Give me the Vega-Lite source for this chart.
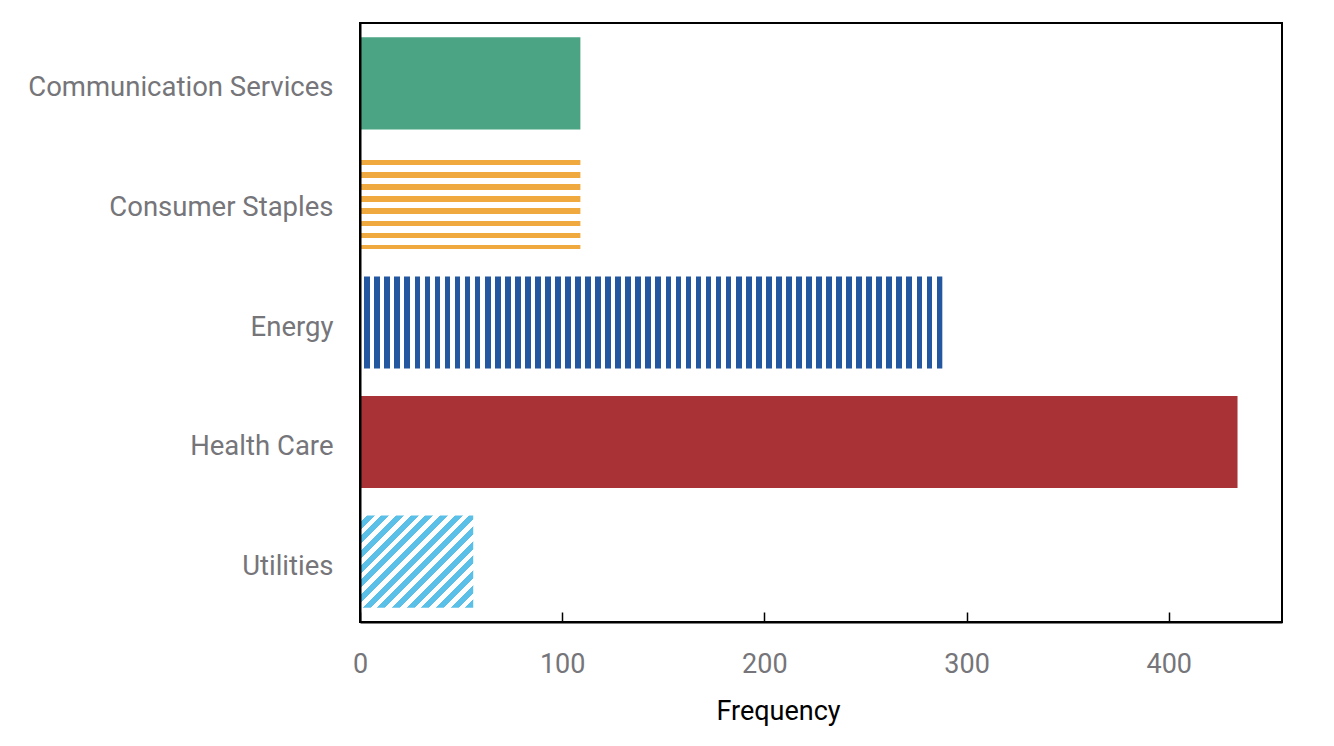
{
  "$schema": "https://vega.github.io/schema/vega-lite/v6.json",
  "autosize": {"type": "none"},
  "padding": {"left": 360, "top": 23, "right": 52, "bottom": 124},
  "width": 922,
  "height": 599,
  "background": "white",
  "config": {
    "view": {"stroke": "#000000", "strokeWidth": 2},
    "font": "Roboto"
  },
  "data": {
    "values": [
      {"sector": "Communication Services", "frequency": 109},
      {"sector": "Consumer Staples", "frequency": 109},
      {"sector": "Energy", "frequency": 288},
      {"sector": "Health Care", "frequency": 434},
      {"sector": "Utilities", "frequency": 56}
    ]
  },
  "encoding": {
    "y": {
      "field": "sector",
      "type": "nominal",
      "scale": {
        "domain": ["Communication Services", "Consumer Staples", "Energy", "Health Care", "Utilities"],
        "paddingInner": 0.23,
        "paddingOuter": 0.12
      },
      "axis": {
        "title": null,
        "ticks": false,
        "domain": true,
        "domainColor": "#000000",
        "domainWidth": 2,
        "zindex": 1,
        "labelPadding": 27,
        "labelOffset": 5,
        "labelLimit": 0,
        "labelFontSize": 27.5,
        "labelColor": "#75757a",
        "labelFont": "Roboto"
      }
    },
    "x": {
      "field": "frequency",
      "type": "quantitative",
      "scale": {"domain": [0, 456], "nice": false, "zero": true},
      "axis": {
        "values": [0, 100, 200, 300, 400],
        "grid": false,
        "domain": true,
        "domainColor": "#000000",
        "domainWidth": 2,
        "zindex": 1,
        "tickSize": -10,
        "tickColor": "#000000",
        "tickWidth": 1.5,
        "labelFlush": false,
        "labelPadding": 39,
        "labelFontSize": 27,
        "labelColor": "#75757a",
        "labelFont": "Roboto",
        "title": "Frequency",
        "titleFont": "Roboto",
        "titleFontSize": 27,
        "titleFontWeight": "normal",
        "titleColor": "#000000",
        "titleX": 418,
        "titleY": 97,
        "titleAlign": "center",
        "titleBaseline": "alphabetic"
      }
    }
  },
  "layer": [
    {
      "transform": [{"filter": "datum.sector === 'Communication Services'"}],
      "mark": {"type": "bar", "fill": "#4ba584"}
    },
    {
      "transform": [{"filter": "datum.sector === 'Health Care'"}],
      "mark": {"type": "bar", "fill": "#a83236"}
    },
    {
      "transform": [{"filter": "datum.sector === 'Consumer Staples'"}],
      "mark": {
        "type": "bar",
        "fill": {
          "gradient": "linear", "x1": 0, "y1": 0, "x2": 0, "y2": 1,
          "stops": [
            {"offset": 0, "color": "#ffffff"}, {"offset": 0.0326, "color": "#ffffff"},
            {"offset": 0.0326, "color": "#f0a93f"}, {"offset": 0.0924, "color": "#f0a93f"},
            {"offset": 0.0924, "color": "#ffffff"}, {"offset": 0.1646, "color": "#ffffff"},
            {"offset": 0.1646, "color": "#f0a93f"}, {"offset": 0.2244, "color": "#f0a93f"},
            {"offset": 0.2244, "color": "#ffffff"}, {"offset": 0.2965, "color": "#ffffff"},
            {"offset": 0.2965, "color": "#f0a93f"}, {"offset": 0.3563, "color": "#f0a93f"},
            {"offset": 0.3563, "color": "#ffffff"}, {"offset": 0.4285, "color": "#ffffff"},
            {"offset": 0.4285, "color": "#f0a93f"}, {"offset": 0.4883, "color": "#f0a93f"},
            {"offset": 0.4883, "color": "#ffffff"}, {"offset": 0.5604, "color": "#ffffff"},
            {"offset": 0.5604, "color": "#f0a93f"}, {"offset": 0.6202, "color": "#f0a93f"},
            {"offset": 0.6202, "color": "#ffffff"}, {"offset": 0.6924, "color": "#ffffff"},
            {"offset": 0.6924, "color": "#f0a93f"}, {"offset": 0.7522, "color": "#f0a93f"},
            {"offset": 0.7522, "color": "#ffffff"}, {"offset": 0.8244, "color": "#ffffff"},
            {"offset": 0.8244, "color": "#f0a93f"}, {"offset": 0.8842, "color": "#f0a93f"},
            {"offset": 0.8842, "color": "#ffffff"}, {"offset": 0.9563, "color": "#ffffff"},
            {"offset": 0.9563, "color": "#f0a93f"}, {"offset": 1, "color": "#f0a93f"}
          ]
        }
      }
    },
    {
      "transform": [{"filter": "datum.sector === 'Utilities'"}],
      "mark": {
        "type": "bar",
        "fill": {
          "gradient": "linear", "x1": 0, "y1": 0, "x2": 1.0917, "y2": 0.8872,
          "stops": [
            {"offset": 0, "color": "#ffffff"}, {"offset": 0.0321, "color": "#ffffff"},
            {"offset": 0.0321, "color": "#5bc0e8"}, {"offset": 0.0714, "color": "#5bc0e8"},
            {"offset": 0.0714, "color": "#ffffff"}, {"offset": 0.1036, "color": "#ffffff"},
            {"offset": 0.1036, "color": "#5bc0e8"}, {"offset": 0.1429, "color": "#5bc0e8"},
            {"offset": 0.1429, "color": "#ffffff"}, {"offset": 0.1750, "color": "#ffffff"},
            {"offset": 0.1750, "color": "#5bc0e8"}, {"offset": 0.2143, "color": "#5bc0e8"},
            {"offset": 0.2143, "color": "#ffffff"}, {"offset": 0.2464, "color": "#ffffff"},
            {"offset": 0.2464, "color": "#5bc0e8"}, {"offset": 0.2857, "color": "#5bc0e8"},
            {"offset": 0.2857, "color": "#ffffff"}, {"offset": 0.3179, "color": "#ffffff"},
            {"offset": 0.3179, "color": "#5bc0e8"}, {"offset": 0.3571, "color": "#5bc0e8"},
            {"offset": 0.3571, "color": "#ffffff"}, {"offset": 0.3893, "color": "#ffffff"},
            {"offset": 0.3893, "color": "#5bc0e8"}, {"offset": 0.4286, "color": "#5bc0e8"},
            {"offset": 0.4286, "color": "#ffffff"}, {"offset": 0.4607, "color": "#ffffff"},
            {"offset": 0.4607, "color": "#5bc0e8"}, {"offset": 0.5, "color": "#5bc0e8"},
            {"offset": 0.5, "color": "#ffffff"}, {"offset": 0.5321, "color": "#ffffff"},
            {"offset": 0.5321, "color": "#5bc0e8"}, {"offset": 0.5714, "color": "#5bc0e8"},
            {"offset": 0.5714, "color": "#ffffff"}, {"offset": 0.6036, "color": "#ffffff"},
            {"offset": 0.6036, "color": "#5bc0e8"}, {"offset": 0.6429, "color": "#5bc0e8"},
            {"offset": 0.6429, "color": "#ffffff"}, {"offset": 0.6750, "color": "#ffffff"},
            {"offset": 0.6750, "color": "#5bc0e8"}, {"offset": 0.7143, "color": "#5bc0e8"},
            {"offset": 0.7143, "color": "#ffffff"}, {"offset": 0.7464, "color": "#ffffff"},
            {"offset": 0.7464, "color": "#5bc0e8"}, {"offset": 0.7857, "color": "#5bc0e8"},
            {"offset": 0.7857, "color": "#ffffff"}, {"offset": 0.8179, "color": "#ffffff"},
            {"offset": 0.8179, "color": "#5bc0e8"}, {"offset": 0.8571, "color": "#5bc0e8"},
            {"offset": 0.8571, "color": "#ffffff"}, {"offset": 0.8893, "color": "#ffffff"},
            {"offset": 0.8893, "color": "#5bc0e8"}, {"offset": 0.9286, "color": "#5bc0e8"},
            {"offset": 0.9286, "color": "#ffffff"}, {"offset": 0.9607, "color": "#ffffff"},
            {"offset": 0.9607, "color": "#5bc0e8"}, {"offset": 1, "color": "#5bc0e8"}
          ]
        }
      }
    },
    {
      "transform": [{"filter": "datum.sector === 'Energy'"}],
      "mark": {
        "type": "bar",
        "fill": {
          "gradient": "linear", "x1": 0, "y1": 0, "x2": 1, "y2": 0,
          "stops": [
            {"offset": 0, "color": "#ffffff"}, {"offset": 0.0074, "color": "#ffffff"}, {"offset": 0.0074, "color": "#2358a0"}, {"offset": 0.01724, "color": "#2358a0"},
            {"offset": 0.01724, "color": "#ffffff"}, {"offset": 0.02464, "color": "#ffffff"}, {"offset": 0.02464, "color": "#2358a0"}, {"offset": 0.03448, "color": "#2358a0"},
            {"offset": 0.03448, "color": "#ffffff"}, {"offset": 0.04188, "color": "#ffffff"}, {"offset": 0.04188, "color": "#2358a0"}, {"offset": 0.05172, "color": "#2358a0"},
            {"offset": 0.05172, "color": "#ffffff"}, {"offset": 0.05912, "color": "#ffffff"}, {"offset": 0.05912, "color": "#2358a0"}, {"offset": 0.06897, "color": "#2358a0"},
            {"offset": 0.06897, "color": "#ffffff"}, {"offset": 0.07637, "color": "#ffffff"}, {"offset": 0.07637, "color": "#2358a0"}, {"offset": 0.08621, "color": "#2358a0"},
            {"offset": 0.08621, "color": "#ffffff"}, {"offset": 0.09361, "color": "#ffffff"}, {"offset": 0.09361, "color": "#2358a0"}, {"offset": 0.10345, "color": "#2358a0"},
            {"offset": 0.10345, "color": "#ffffff"}, {"offset": 0.11085, "color": "#ffffff"}, {"offset": 0.11085, "color": "#2358a0"}, {"offset": 0.12069, "color": "#2358a0"},
            {"offset": 0.12069, "color": "#ffffff"}, {"offset": 0.12809, "color": "#ffffff"}, {"offset": 0.12809, "color": "#2358a0"}, {"offset": 0.13793, "color": "#2358a0"},
            {"offset": 0.13793, "color": "#ffffff"}, {"offset": 0.14533, "color": "#ffffff"}, {"offset": 0.14533, "color": "#2358a0"}, {"offset": 0.15517, "color": "#2358a0"},
            {"offset": 0.15517, "color": "#ffffff"}, {"offset": 0.16257, "color": "#ffffff"}, {"offset": 0.16257, "color": "#2358a0"}, {"offset": 0.17241, "color": "#2358a0"},
            {"offset": 0.17241, "color": "#ffffff"}, {"offset": 0.17981, "color": "#ffffff"}, {"offset": 0.17981, "color": "#2358a0"}, {"offset": 0.18966, "color": "#2358a0"},
            {"offset": 0.18966, "color": "#ffffff"}, {"offset": 0.19706, "color": "#ffffff"}, {"offset": 0.19706, "color": "#2358a0"}, {"offset": 0.2069, "color": "#2358a0"},
            {"offset": 0.2069, "color": "#ffffff"}, {"offset": 0.2143, "color": "#ffffff"}, {"offset": 0.2143, "color": "#2358a0"}, {"offset": 0.22414, "color": "#2358a0"},
            {"offset": 0.22414, "color": "#ffffff"}, {"offset": 0.23154, "color": "#ffffff"}, {"offset": 0.23154, "color": "#2358a0"}, {"offset": 0.24138, "color": "#2358a0"},
            {"offset": 0.24138, "color": "#ffffff"}, {"offset": 0.24878, "color": "#ffffff"}, {"offset": 0.24878, "color": "#2358a0"}, {"offset": 0.25862, "color": "#2358a0"},
            {"offset": 0.25862, "color": "#ffffff"}, {"offset": 0.26602, "color": "#ffffff"}, {"offset": 0.26602, "color": "#2358a0"}, {"offset": 0.27586, "color": "#2358a0"},
            {"offset": 0.27586, "color": "#ffffff"}, {"offset": 0.28326, "color": "#ffffff"}, {"offset": 0.28326, "color": "#2358a0"}, {"offset": 0.2931, "color": "#2358a0"},
            {"offset": 0.2931, "color": "#ffffff"}, {"offset": 0.3005, "color": "#ffffff"}, {"offset": 0.3005, "color": "#2358a0"}, {"offset": 0.31034, "color": "#2358a0"},
            {"offset": 0.31034, "color": "#ffffff"}, {"offset": 0.31774, "color": "#ffffff"}, {"offset": 0.31774, "color": "#2358a0"}, {"offset": 0.32759, "color": "#2358a0"},
            {"offset": 0.32759, "color": "#ffffff"}, {"offset": 0.33499, "color": "#ffffff"}, {"offset": 0.33499, "color": "#2358a0"}, {"offset": 0.34483, "color": "#2358a0"},
            {"offset": 0.34483, "color": "#ffffff"}, {"offset": 0.35223, "color": "#ffffff"}, {"offset": 0.35223, "color": "#2358a0"}, {"offset": 0.36207, "color": "#2358a0"},
            {"offset": 0.36207, "color": "#ffffff"}, {"offset": 0.36947, "color": "#ffffff"}, {"offset": 0.36947, "color": "#2358a0"}, {"offset": 0.37931, "color": "#2358a0"},
            {"offset": 0.37931, "color": "#ffffff"}, {"offset": 0.38671, "color": "#ffffff"}, {"offset": 0.38671, "color": "#2358a0"}, {"offset": 0.39655, "color": "#2358a0"},
            {"offset": 0.39655, "color": "#ffffff"}, {"offset": 0.40395, "color": "#ffffff"}, {"offset": 0.40395, "color": "#2358a0"}, {"offset": 0.41379, "color": "#2358a0"},
            {"offset": 0.41379, "color": "#ffffff"}, {"offset": 0.42119, "color": "#ffffff"}, {"offset": 0.42119, "color": "#2358a0"}, {"offset": 0.43103, "color": "#2358a0"},
            {"offset": 0.43103, "color": "#ffffff"}, {"offset": 0.43843, "color": "#ffffff"}, {"offset": 0.43843, "color": "#2358a0"}, {"offset": 0.44828, "color": "#2358a0"},
            {"offset": 0.44828, "color": "#ffffff"}, {"offset": 0.45568, "color": "#ffffff"}, {"offset": 0.45568, "color": "#2358a0"}, {"offset": 0.46552, "color": "#2358a0"},
            {"offset": 0.46552, "color": "#ffffff"}, {"offset": 0.47292, "color": "#ffffff"}, {"offset": 0.47292, "color": "#2358a0"}, {"offset": 0.48276, "color": "#2358a0"},
            {"offset": 0.48276, "color": "#ffffff"}, {"offset": 0.49016, "color": "#ffffff"}, {"offset": 0.49016, "color": "#2358a0"}, {"offset": 0.5, "color": "#2358a0"},
            {"offset": 0.5, "color": "#ffffff"}, {"offset": 0.5074, "color": "#ffffff"}, {"offset": 0.5074, "color": "#2358a0"}, {"offset": 0.51724, "color": "#2358a0"},
            {"offset": 0.51724, "color": "#ffffff"}, {"offset": 0.52464, "color": "#ffffff"}, {"offset": 0.52464, "color": "#2358a0"}, {"offset": 0.53448, "color": "#2358a0"},
            {"offset": 0.53448, "color": "#ffffff"}, {"offset": 0.54188, "color": "#ffffff"}, {"offset": 0.54188, "color": "#2358a0"}, {"offset": 0.55172, "color": "#2358a0"},
            {"offset": 0.55172, "color": "#ffffff"}, {"offset": 0.55912, "color": "#ffffff"}, {"offset": 0.55912, "color": "#2358a0"}, {"offset": 0.56897, "color": "#2358a0"},
            {"offset": 0.56897, "color": "#ffffff"}, {"offset": 0.57637, "color": "#ffffff"}, {"offset": 0.57637, "color": "#2358a0"}, {"offset": 0.58621, "color": "#2358a0"},
            {"offset": 0.58621, "color": "#ffffff"}, {"offset": 0.59361, "color": "#ffffff"}, {"offset": 0.59361, "color": "#2358a0"}, {"offset": 0.60345, "color": "#2358a0"},
            {"offset": 0.60345, "color": "#ffffff"}, {"offset": 0.61085, "color": "#ffffff"}, {"offset": 0.61085, "color": "#2358a0"}, {"offset": 0.62069, "color": "#2358a0"},
            {"offset": 0.62069, "color": "#ffffff"}, {"offset": 0.62809, "color": "#ffffff"}, {"offset": 0.62809, "color": "#2358a0"}, {"offset": 0.63793, "color": "#2358a0"},
            {"offset": 0.63793, "color": "#ffffff"}, {"offset": 0.64533, "color": "#ffffff"}, {"offset": 0.64533, "color": "#2358a0"}, {"offset": 0.65517, "color": "#2358a0"},
            {"offset": 0.65517, "color": "#ffffff"}, {"offset": 0.66257, "color": "#ffffff"}, {"offset": 0.66257, "color": "#2358a0"}, {"offset": 0.67241, "color": "#2358a0"},
            {"offset": 0.67241, "color": "#ffffff"}, {"offset": 0.67981, "color": "#ffffff"}, {"offset": 0.67981, "color": "#2358a0"}, {"offset": 0.68966, "color": "#2358a0"},
            {"offset": 0.68966, "color": "#ffffff"}, {"offset": 0.69706, "color": "#ffffff"}, {"offset": 0.69706, "color": "#2358a0"}, {"offset": 0.7069, "color": "#2358a0"},
            {"offset": 0.7069, "color": "#ffffff"}, {"offset": 0.7143, "color": "#ffffff"}, {"offset": 0.7143, "color": "#2358a0"}, {"offset": 0.72414, "color": "#2358a0"},
            {"offset": 0.72414, "color": "#ffffff"}, {"offset": 0.73154, "color": "#ffffff"}, {"offset": 0.73154, "color": "#2358a0"}, {"offset": 0.74138, "color": "#2358a0"},
            {"offset": 0.74138, "color": "#ffffff"}, {"offset": 0.74878, "color": "#ffffff"}, {"offset": 0.74878, "color": "#2358a0"}, {"offset": 0.75862, "color": "#2358a0"},
            {"offset": 0.75862, "color": "#ffffff"}, {"offset": 0.76602, "color": "#ffffff"}, {"offset": 0.76602, "color": "#2358a0"}, {"offset": 0.77586, "color": "#2358a0"},
            {"offset": 0.77586, "color": "#ffffff"}, {"offset": 0.78326, "color": "#ffffff"}, {"offset": 0.78326, "color": "#2358a0"}, {"offset": 0.7931, "color": "#2358a0"},
            {"offset": 0.7931, "color": "#ffffff"}, {"offset": 0.8005, "color": "#ffffff"}, {"offset": 0.8005, "color": "#2358a0"}, {"offset": 0.81034, "color": "#2358a0"},
            {"offset": 0.81034, "color": "#ffffff"}, {"offset": 0.81774, "color": "#ffffff"}, {"offset": 0.81774, "color": "#2358a0"}, {"offset": 0.82759, "color": "#2358a0"},
            {"offset": 0.82759, "color": "#ffffff"}, {"offset": 0.83499, "color": "#ffffff"}, {"offset": 0.83499, "color": "#2358a0"}, {"offset": 0.84483, "color": "#2358a0"},
            {"offset": 0.84483, "color": "#ffffff"}, {"offset": 0.85223, "color": "#ffffff"}, {"offset": 0.85223, "color": "#2358a0"}, {"offset": 0.86207, "color": "#2358a0"},
            {"offset": 0.86207, "color": "#ffffff"}, {"offset": 0.86947, "color": "#ffffff"}, {"offset": 0.86947, "color": "#2358a0"}, {"offset": 0.87931, "color": "#2358a0"},
            {"offset": 0.87931, "color": "#ffffff"}, {"offset": 0.88671, "color": "#ffffff"}, {"offset": 0.88671, "color": "#2358a0"}, {"offset": 0.89655, "color": "#2358a0"},
            {"offset": 0.89655, "color": "#ffffff"}, {"offset": 0.90395, "color": "#ffffff"}, {"offset": 0.90395, "color": "#2358a0"}, {"offset": 0.91379, "color": "#2358a0"},
            {"offset": 0.91379, "color": "#ffffff"}, {"offset": 0.92119, "color": "#ffffff"}, {"offset": 0.92119, "color": "#2358a0"}, {"offset": 0.93103, "color": "#2358a0"},
            {"offset": 0.93103, "color": "#ffffff"}, {"offset": 0.93843, "color": "#ffffff"}, {"offset": 0.93843, "color": "#2358a0"}, {"offset": 0.94828, "color": "#2358a0"},
            {"offset": 0.94828, "color": "#ffffff"}, {"offset": 0.95568, "color": "#ffffff"}, {"offset": 0.95568, "color": "#2358a0"}, {"offset": 0.96552, "color": "#2358a0"},
            {"offset": 0.96552, "color": "#ffffff"}, {"offset": 0.97292, "color": "#ffffff"}, {"offset": 0.97292, "color": "#2358a0"}, {"offset": 0.98276, "color": "#2358a0"},
            {"offset": 0.98276, "color": "#ffffff"}, {"offset": 0.99016, "color": "#ffffff"}, {"offset": 0.99016, "color": "#2358a0"}, {"offset": 1, "color": "#2358a0"}
          ]
        }
      }
    }
  ]
}
